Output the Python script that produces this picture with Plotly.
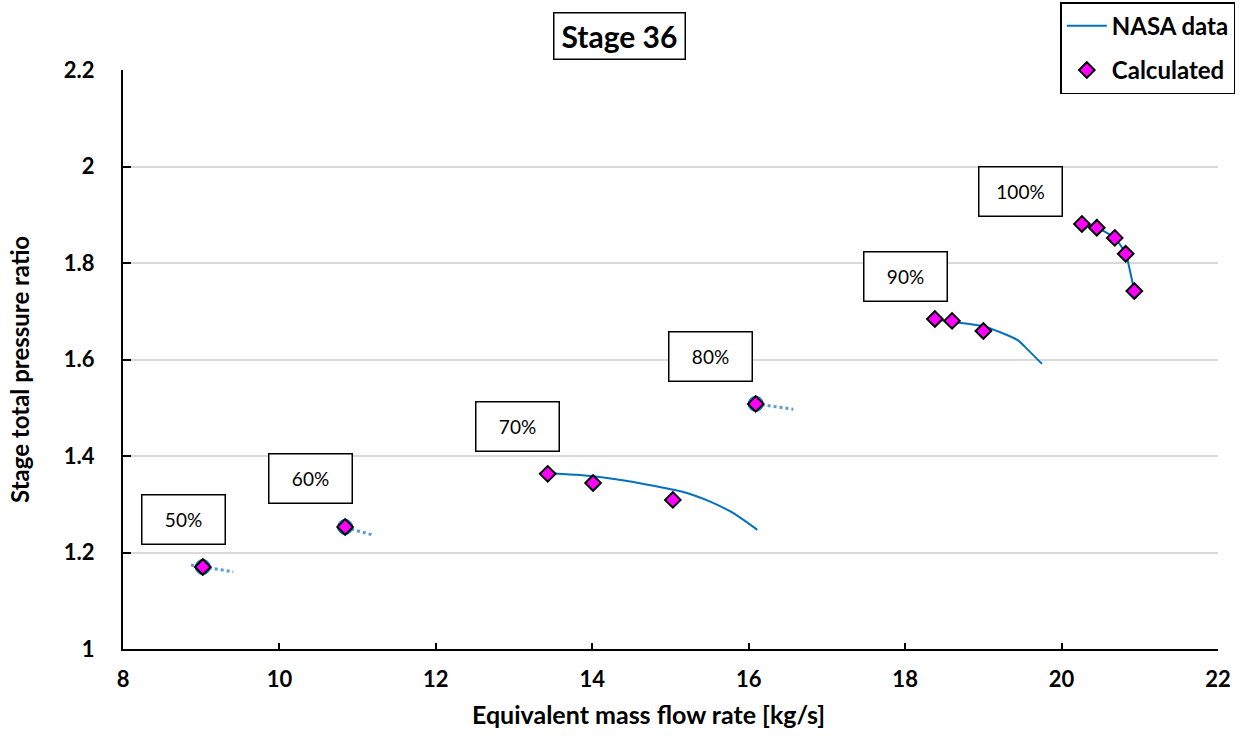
import plotly.graph_objects as go

# NASA stage characteristic lines (70%, 90%, 100% speed)
nasa_70_x = [13.43, 13.80, 14.30, 14.80, 15.20, 15.50, 15.80, 16.11]
nasa_70_y = [1.365, 1.361, 1.352, 1.338, 1.324, 1.306, 1.282, 1.247]
nasa_90_x = [18.38, 18.60, 19.00, 19.24, 19.44, 19.57, 19.75]
nasa_90_y = [1.684, 1.678, 1.669, 1.655, 1.640, 1.620, 1.591]
nasa_100_x = [20.26, 20.45, 20.68, 20.82, 20.88, 20.93]
nasa_100_y = [1.881, 1.873, 1.852, 1.819, 1.780, 1.742]

# NASA single points with short dotted extensions (50%, 60%, 80% speed)
nasa_pt_x = [9.02, 10.84, 16.09]
nasa_pt_y = [1.170, 1.253, 1.508]
nasa_50_dot_x = [8.87, 9.41]
nasa_50_dot_y = [1.174, 1.160]
nasa_60_dot_x = [10.77, 11.20]
nasa_60_dot_y = [1.255, 1.236]
nasa_80_dot_x = [16.09, 16.57]
nasa_80_dot_y = [1.508, 1.497]

# Calculated operating points
calc_x = [9.02, 10.84, 13.43, 14.01, 15.03, 16.09,
          18.38, 18.60, 19.00,
          20.26, 20.45, 20.68, 20.82, 20.93]
calc_y = [1.170, 1.253, 1.363, 1.344, 1.309, 1.508,
          1.684, 1.680, 1.659,
          1.881, 1.873, 1.852, 1.819, 1.742]

# Speed labels and their positions
speed_labels = ["50%", "60%", "70%", "80%", "90%", "100%"]
speed_label_x = [8.77, 10.40, 13.05, 15.51, 18.00, 19.47]
speed_label_y = [1.269, 1.354, 1.462, 1.607, 1.771, 1.949]

x_ticks = [8, 10, 12, 14, 16, 18, 20, 22]
y_ticks = [1, 1.2, 1.4, 1.6, 1.8, 2, 2.2]
y_tick_text = ["1", "1.2", "1.4", "1.6", "1.8", "2", "2.2"]

FONT = "Lato"
LINE_BLUE = "#0070C0"
DOT_BLUE = "#5B9BD5"


def join(*segments):
    xs, ys = [], []
    for sx, sy in segments:
        if xs:
            xs.append(None)
            ys.append(None)
        xs += sx
        ys += sy
    return xs, ys


fig = go.Figure()

sx, sy = join((nasa_70_x, nasa_70_y), (nasa_90_x, nasa_90_y), (nasa_100_x, nasa_100_y))
fig.add_trace(go.Scatter(
    x=sx, y=sy, mode="lines", name="NASA data",
    line=dict(color=LINE_BLUE, width=2, shape="spline", smoothing=0.6),
    legendgroup="nasa", connectgaps=False,
))

dx, dy = join((nasa_50_dot_x, nasa_50_dot_y), (nasa_60_dot_x, nasa_60_dot_y),
              (nasa_80_dot_x, nasa_80_dot_y))
fig.add_trace(go.Scatter(
    x=dx, y=dy, mode="lines", showlegend=False,
    line=dict(color=DOT_BLUE, width=3, dash="dot"),
    connectgaps=False, hoverinfo="skip",
))

fig.add_trace(go.Scatter(
    x=nasa_pt_x, y=nasa_pt_y, mode="markers", showlegend=False,
    marker=dict(symbol="circle", size=15, color=DOT_BLUE,
                line=dict(color=LINE_BLUE, width=1)),
))

fig.add_trace(go.Scatter(
    x=calc_x, y=calc_y, mode="markers", name="Calculated",
    marker=dict(symbol="diamond", size=12, color="#FF00FF",
                line=dict(color="black", width=2)),
    legendgroup="calc",
))

for txt, lx, ly in zip(speed_labels, speed_label_x, speed_label_y):
    fig.add_annotation(
        x=lx, y=ly, xref="x", yref="y", text=txt, showarrow=False,
        font=dict(family=FONT, size=19, color="black"),
        bordercolor="black", borderwidth=1.5, bgcolor="white",
        width=80, height=46,
    )

# Boxed chart title
fig.add_annotation(
    x=0.453, y=1.0587, xref="paper", yref="paper", text="Stage 36",
    xanchor="center", yanchor="middle",
    showarrow=False, font=dict(family=FONT, size=30, color="black", weight="bold"),
    bordercolor="black", borderwidth=1.5, bgcolor="white",
    width=128, height=43,
)

# Axis titles
fig.add_annotation(
    x=0.48, y=-0.113, xref="paper", yref="paper",
    text="Equivalent mass flow rate [kg/s]", showarrow=False,
    xanchor="center", yanchor="middle",
    font=dict(family=FONT, size=25, color="black", weight="bold"),
)
fig.add_annotation(
    x=-0.094, y=0.482, xref="paper", yref="paper",
    text="Stage total pressure ratio", showarrow=False, textangle=-90,
    xanchor="center", yanchor="middle",
    font=dict(family=FONT, size=24, color="black", weight="bold"),
)

fig.update_layout(
    width=1243, height=751,
    margin=dict(l=123, r=25, t=70, b=102, autoexpand=False),
    paper_bgcolor="white", plot_bgcolor="white",
    font=dict(family=FONT, color="black"),
    legend=dict(
        x=0.856, y=1.117, xanchor="left", yanchor="top",
        bordercolor="black", borderwidth=1.5, bgcolor="white",
        font=dict(family=FONT, size=24, color="black", weight="bold"),
        tracegroupgap=10, itemwidth=40,
    ),
    showlegend=True,
)

fig.update_xaxes(
    range=[8, 22], tickvals=x_ticks,
    showgrid=False, zeroline=False,
    showline=True, linecolor="black", linewidth=2,
    ticks="inside", ticklen=6, tickwidth=2, tickcolor="black",
    ticklabelstandoff=10,
    tickfont=dict(family=FONT, size=22, color="black", weight="bold"),
)

fig.update_yaxes(
    range=[1, 2.2], tickvals=y_ticks, ticktext=y_tick_text,
    showgrid=True, gridcolor="#D9D9D9", gridwidth=1.5, zeroline=False,
    showline=True, linecolor="black", linewidth=2,
    ticks="inside", ticklen=8, tickwidth=2, tickcolor="black",
    ticklabelstandoff=22,
    tickfont=dict(family=FONT, size=22, color="black", weight="bold"),
)

fig.write_html("out.html")
